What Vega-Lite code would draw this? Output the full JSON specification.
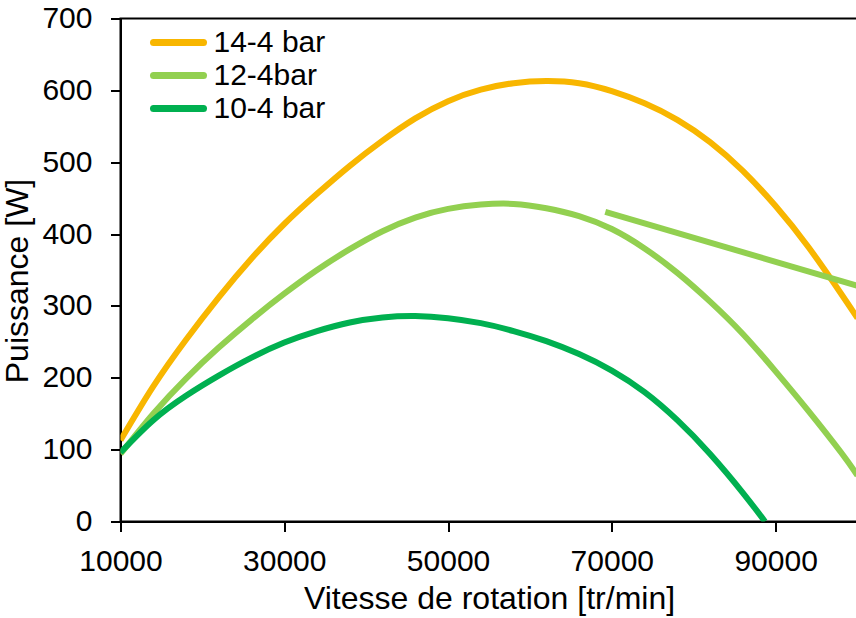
{
  "$schema": "https://vega.github.io/schema/vega-lite/v6.json",
  "width": 737,
  "height": 503,
  "autosize": "none",
  "padding": {"left": 120.5, "top": 18.5, "right": 0, "bottom": 96.5},
  "background": "white",
  "config": {
    "font": "Liberation Sans",
    "view": {"stroke": "black", "strokeWidth": 2}
  },
  "data": {
    "values": [
      {"vitesse": 10000, "puissance": 113, "serie": "14-4 bar", "trace": "a"},
      {"vitesse": 14000, "puissance": 188, "serie": "14-4 bar", "trace": "a"},
      {"vitesse": 18000, "puissance": 253, "serie": "14-4 bar", "trace": "a"},
      {"vitesse": 22000, "puissance": 312, "serie": "14-4 bar", "trace": "a"},
      {"vitesse": 26000, "puissance": 366, "serie": "14-4 bar", "trace": "a"},
      {"vitesse": 30000, "puissance": 414, "serie": "14-4 bar", "trace": "a"},
      {"vitesse": 34000, "puissance": 456, "serie": "14-4 bar", "trace": "a"},
      {"vitesse": 38000, "puissance": 495, "serie": "14-4 bar", "trace": "a"},
      {"vitesse": 42000, "puissance": 530, "serie": "14-4 bar", "trace": "a"},
      {"vitesse": 46000, "puissance": 561, "serie": "14-4 bar", "trace": "a"},
      {"vitesse": 50000, "puissance": 585, "serie": "14-4 bar", "trace": "a"},
      {"vitesse": 54000, "puissance": 601, "serie": "14-4 bar", "trace": "a"},
      {"vitesse": 58000, "puissance": 610, "serie": "14-4 bar", "trace": "a"},
      {"vitesse": 62000, "puissance": 613, "serie": "14-4 bar", "trace": "a"},
      {"vitesse": 66000, "puissance": 610, "serie": "14-4 bar", "trace": "a"},
      {"vitesse": 70000, "puissance": 599, "serie": "14-4 bar", "trace": "a"},
      {"vitesse": 74000, "puissance": 582, "serie": "14-4 bar", "trace": "a"},
      {"vitesse": 78000, "puissance": 559, "serie": "14-4 bar", "trace": "a"},
      {"vitesse": 82000, "puissance": 528, "serie": "14-4 bar", "trace": "a"},
      {"vitesse": 86000, "puissance": 488, "serie": "14-4 bar", "trace": "a"},
      {"vitesse": 90000, "puissance": 439, "serie": "14-4 bar", "trace": "a"},
      {"vitesse": 94000, "puissance": 382, "serie": "14-4 bar", "trace": "a"},
      {"vitesse": 98000, "puissance": 317, "serie": "14-4 bar", "trace": "a"},
      {"vitesse": 100000, "puissance": 283, "serie": "14-4 bar", "trace": "a"},

      {"vitesse": 10000, "puissance": 94, "serie": "12-4bar", "trace": "a"},
      {"vitesse": 14000, "puissance": 150, "serie": "12-4bar", "trace": "a"},
      {"vitesse": 18000, "puissance": 199, "serie": "12-4bar", "trace": "a"},
      {"vitesse": 22000, "puissance": 242, "serie": "12-4bar", "trace": "a"},
      {"vitesse": 26000, "puissance": 281, "serie": "12-4bar", "trace": "a"},
      {"vitesse": 30000, "puissance": 317, "serie": "12-4bar", "trace": "a"},
      {"vitesse": 34000, "puissance": 350, "serie": "12-4bar", "trace": "a"},
      {"vitesse": 38000, "puissance": 379, "serie": "12-4bar", "trace": "a"},
      {"vitesse": 42000, "puissance": 404, "serie": "12-4bar", "trace": "a"},
      {"vitesse": 46000, "puissance": 423, "serie": "12-4bar", "trace": "a"},
      {"vitesse": 50000, "puissance": 435, "serie": "12-4bar", "trace": "a"},
      {"vitesse": 54000, "puissance": 441, "serie": "12-4bar", "trace": "a"},
      {"vitesse": 58000, "puissance": 442, "serie": "12-4bar", "trace": "a"},
      {"vitesse": 62000, "puissance": 436, "serie": "12-4bar", "trace": "a"},
      {"vitesse": 66000, "puissance": 425, "serie": "12-4bar", "trace": "a"},
      {"vitesse": 70000, "puissance": 407, "serie": "12-4bar", "trace": "a"},
      {"vitesse": 74000, "puissance": 380, "serie": "12-4bar", "trace": "a"},
      {"vitesse": 78000, "puissance": 346, "serie": "12-4bar", "trace": "a"},
      {"vitesse": 82000, "puissance": 306, "serie": "12-4bar", "trace": "a"},
      {"vitesse": 86000, "puissance": 261, "serie": "12-4bar", "trace": "a"},
      {"vitesse": 90000, "puissance": 209, "serie": "12-4bar", "trace": "a"},
      {"vitesse": 94000, "puissance": 154, "serie": "12-4bar", "trace": "a"},
      {"vitesse": 98000, "puissance": 96, "serie": "12-4bar", "trace": "a"},
      {"vitesse": 100000, "puissance": 64, "serie": "12-4bar", "trace": "a"},

      {"vitesse": 69200, "puissance": 431, "serie": "12-4bar", "trace": "b"},
      {"vitesse": 100000, "puissance": 328, "serie": "12-4bar", "trace": "b"},

      {"vitesse": 10000, "puissance": 96, "serie": "10-4 bar", "trace": "a"},
      {"vitesse": 14000, "puissance": 141, "serie": "10-4 bar", "trace": "a"},
      {"vitesse": 18000, "puissance": 175, "serie": "10-4 bar", "trace": "a"},
      {"vitesse": 22000, "puissance": 203, "serie": "10-4 bar", "trace": "a"},
      {"vitesse": 26000, "puissance": 228, "serie": "10-4 bar", "trace": "a"},
      {"vitesse": 30000, "puissance": 249, "serie": "10-4 bar", "trace": "a"},
      {"vitesse": 34000, "puissance": 265, "serie": "10-4 bar", "trace": "a"},
      {"vitesse": 38000, "puissance": 277, "serie": "10-4 bar", "trace": "a"},
      {"vitesse": 42000, "puissance": 284, "serie": "10-4 bar", "trace": "a"},
      {"vitesse": 46000, "puissance": 286, "serie": "10-4 bar", "trace": "a"},
      {"vitesse": 50000, "puissance": 283, "serie": "10-4 bar", "trace": "a"},
      {"vitesse": 54000, "puissance": 276, "serie": "10-4 bar", "trace": "a"},
      {"vitesse": 58000, "puissance": 265, "serie": "10-4 bar", "trace": "a"},
      {"vitesse": 62000, "puissance": 251, "serie": "10-4 bar", "trace": "a"},
      {"vitesse": 66000, "puissance": 233, "serie": "10-4 bar", "trace": "a"},
      {"vitesse": 70000, "puissance": 210, "serie": "10-4 bar", "trace": "a"},
      {"vitesse": 74000, "puissance": 180, "serie": "10-4 bar", "trace": "a"},
      {"vitesse": 78000, "puissance": 141, "serie": "10-4 bar", "trace": "a"},
      {"vitesse": 82000, "puissance": 94, "serie": "10-4 bar", "trace": "a"},
      {"vitesse": 86000, "puissance": 40, "serie": "10-4 bar", "trace": "a"},
      {"vitesse": 88700, "puissance": 0, "serie": "10-4 bar", "trace": "a"}
    ]
  },
  "mark": {"type": "line", "strokeWidth": 6, "interpolate": "natural", "strokeCap": "butt", "clip": true},
  "encoding": {
    "x": {
      "field": "vitesse",
      "type": "quantitative",
      "scale": {"domain": [10000, 100000], "nice": false, "zero": false},
      "axis": {
        "values": [10000, 30000, 50000, 70000, 90000],
        "format": "d",
        "grid": false,
        "labelFlush": false,
        "labelFontSize": 30,
        "labelColor": "black",
        "labelPadding": 14.6,
        "tickSize": 10,
        "tickWidth": 2,
        "tickColor": "black",
        "domainColor": "black",
        "domainWidth": 2,
        "title": "Vitesse de rotation [tr/min]",
        "titleFontSize": 32,
        "titleFontWeight": "normal",
        "titleColor": "black",
        "titlePadding": 7
      }
    },
    "y": {
      "field": "puissance",
      "type": "quantitative",
      "scale": {"domain": [0, 700], "nice": false},
      "axis": {
        "values": [0, 100, 200, 300, 400, 500, 600, 700],
        "grid": false,
        "labelFlush": false,
        "labelFontSize": 30,
        "labelColor": "black",
        "labelPadding": 18.5,
        "tickSize": 10,
        "tickWidth": 2,
        "tickColor": "black",
        "domainColor": "black",
        "domainWidth": 2,
        "title": "Puissance [W]",
        "titleFontSize": 32,
        "titleFontWeight": "normal",
        "titleColor": "black",
        "titlePadding": 7,
        "titleY": 262
      }
    },
    "color": {
      "field": "serie",
      "type": "nominal",
      "sort": ["14-4 bar", "12-4bar", "10-4 bar"],
      "scale": {"domain": ["14-4 bar", "12-4bar", "10-4 bar"], "range": ["#F8B600", "#92D050", "#00B050"]},
      "legend": {
        "title": null,
        "orient": "none",
        "legendX": 43,
        "legendY": 9,
        "padding": 0,
        "labelFontSize": 30,
        "labelColor": "black",
        "labelOffset": 20,
        "symbolType": "M-2.5,0H2.5",
        "symbolSize": 400,
        "symbolStrokeWidth": 7,
        "rowPadding": 3,
        "encode": {"symbols": {"update": {"strokeCap": {"value": "round"}}}}
      }
    },
    "detail": {"field": "trace"}
  }
}
